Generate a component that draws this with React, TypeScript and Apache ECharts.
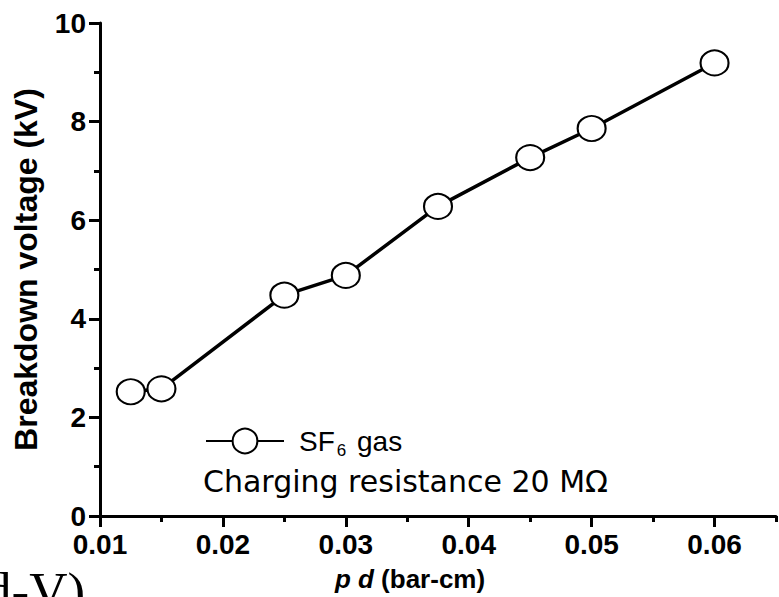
import React, { useEffect, useRef } from "react";
import * as echarts from "echarts";

const pd = [0.0125, 0.015, 0.025, 0.03, 0.0375, 0.045, 0.05, 0.06];
const voltage = [2.52, 2.58, 4.48, 4.88, 6.28, 7.27, 7.86, 9.19];
const xMajorTicks = [0.01, 0.02, 0.03, 0.04, 0.05, 0.06];
const xMinorTicks = [0.015, 0.025, 0.035, 0.045, 0.055, 0.065];
const seriesName = "SF6 gas";
const noteText = "Charging resistance 20 MΩ";

const FONT = 'Arial, "Liberation Sans", Helvetica, sans-serif';

export default function App() {
  const ref = useRef<HTMLDivElement>(null);
  useEffect(() => {
    if (!ref.current) return;
    const chart = echarts.init(ref.current, null, { renderer: "svg" });
    const data = pd.map((x, i) => [x, voltage[i]]);
    chart.setOption({
      animation: false,
      backgroundColor: "#ffffff",
      grid: { left: 100, right: 3, top: 23, bottom: 76, containLabel: false },
      legend: {
        show: true,
        left: 200,
        top: 422,
        itemWidth: 78,
        itemHeight: 31,
        data: [seriesName],
        formatter: () => "SF{sub|6} gas",
        textStyle: {
          fontFamily: FONT,
          fontSize: 28,
          color: "#000",
          padding: [0, 0, 0, 10],
          rich: {
            sub: { fontFamily: FONT, fontSize: 17, color: "#000", verticalAlign: "bottom", padding: [18, 3, 0, 2] },
          },
        },
      },
      xAxis: [
        {
          type: "value",
          min: 0.01,
          max: 0.065,
          interval: 0.01,
          splitLine: { show: false },
          axisLine: { show: true, onZero: false, lineStyle: { color: "#000", width: 3 } },
          axisTick: { show: true, length: 11, lineStyle: { color: "#000", width: 3 }, customValues: xMajorTicks },
          axisLabel: {
            color: "#000",
            fontFamily: FONT,
            fontWeight: "bold",
            fontSize: 28,
            margin: 14,
            customValues: xMajorTicks,
            formatter: (v: number) => v.toFixed(2),
          },
          name: "{i|p} {i|d} (bar-cm)",
          nameLocation: "middle",
          nameGap: 50,
          nameTextStyle: {
            color: "#000",
            fontFamily: FONT,
            fontWeight: "bold",
            fontSize: 26,
            padding: [0, 56, 0, 0],
            rich: { i: { fontFamily: FONT, fontWeight: "bold", fontStyle: "italic", fontSize: 26, color: "#000" } },
          },
        },
        {
          type: "value",
          min: 0.01,
          max: 0.065,
          position: "bottom",
          splitLine: { show: false },
          axisLine: { show: false },
          axisTick: { show: true, length: 6, lineStyle: { color: "#000", width: 3 }, customValues: xMinorTicks },
          axisLabel: { show: false },
        },
      ],
      yAxis: {
        type: "value",
        min: 0,
        max: 10,
        interval: 2,
        splitLine: { show: false },
        axisLine: { show: true, lineStyle: { color: "#000", width: 3 } },
        axisTick: { show: true, length: 11, lineStyle: { color: "#000", width: 3 } },
        minorTick: { show: true, splitNumber: 2, length: 6, lineStyle: { color: "#000", width: 3 } },
        minorSplitLine: { show: false },
        axisLabel: { color: "#000", fontFamily: FONT, fontWeight: "bold", fontSize: 28, margin: 14 },
        name: "Breakdown voltage (kV)",
        nameLocation: "middle",
        nameGap: 58,
        nameTextStyle: { color: "#000", fontFamily: FONT, fontWeight: "bold", fontSize: 32 },
      },
      series: [
        {
          name: seriesName,
          type: "line",
          data,
          symbol: "circle",
          symbolSize: [28, 25],
          lineStyle: { color: "#000", width: 3.5 },
          itemStyle: { color: "#fff", borderColor: "#000", borderWidth: 2 },
          z: 3,
        },
      ],
      graphic: [
        {
          type: "text",
          left: 203,
          top: 466,
          style: { text: noteText, fontFamily: '"DejaVu Sans", sans-serif', fontSize: 30, fill: "#000" },
        },
        {
          type: "text",
          left: -15,
          top: 564,
          style: { text: "d-V)", fontFamily: '"Liberation Serif", "Times New Roman", serif', fontSize: 53, fill: "#000" },
        },
      ],
    });
    return () => chart.dispose();
  }, []);
  return <div ref={ref} style={{ position: "fixed", left: 0, top: 0, width: 779, height: 597 }} />;
}
